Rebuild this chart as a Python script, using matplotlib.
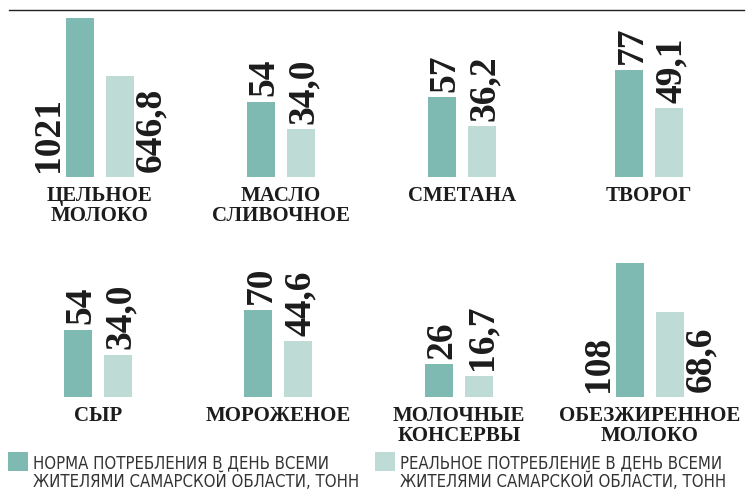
import matplotlib.pyplot as plt
from matplotlib.patches import Rectangle
from matplotlib.lines import Line2D

# данные
categories = ['ЦЕЛЬНОЕ\nМОЛОКО', 'МАСЛО\nСЛИВОЧНОЕ', 'СМЕТАНА', 'ТВОРОГ',
              'СЫР', 'МОРОЖЕНОЕ', 'МОЛОЧНЫЕ\nКОНСЕРВЫ', 'ОБЕЗЖИРЕННОЕ\nМОЛОКО']
norma = [1021, 54, 57, 77, 54, 70, 26, 108]
realnoe = [646.8, 34.0, 36.2, 49.1, 34.0, 44.6, 16.7, 68.6]
legend_labels = ['НОРМА ПОТРЕБЛЕНИЯ В ДЕНЬ ВСЕМИ\nЖИТЕЛЯМИ САМАРСКОЙ ОБЛАСТИ, ТОНН',
                 'РЕАЛЬНОЕ ПОТРЕБЛЕНИЕ В ДЕНЬ ВСЕМИ\nЖИТЕЛЯМИ САМАРСКОЙ ОБЛАСТИ, ТОНН']

# оформление
W, H = 749, 490
c_dark = '#7ebab2'
c_light = '#bfdbd6'
txt_c = '#1c1c1c'
serif = 'Liberation Serif'
centers = [100, 281, 462, 649, 98, 278, 459, 650]      # центр пары столбцов, px
baselines = [176.7] * 4 + [396.7] * 4                   # низ столбцов, px
px_per_unit = [0.1555, 1.39, 1.39, 1.39, 1.24, 1.24, 1.24, 1.24]
side_labels = {0, 7}   # подписи сбоку от высоких столбцов
ax_h = 165


def fx(px):
    return px / W


def fy(px):
    return 1 - px / H


fig = plt.figure(figsize=(W / 100, H / 100), dpi=100)

for i, cat in enumerate(categories):
    ax = fig.add_axes([fx(centers[i] - 80), fy(baselines[i]), 160 / W, ax_h / H])
    ax.set_xlim(-2, 2)
    ax.set_ylim(0, ax_h / px_per_unit[i])
    ax.axis('off')
    ax.bar(-0.5, norma[i], width=0.7, color=c_dark)
    ax.bar(0.5, realnoe[i], width=0.7, color=c_light)

    s1 = str(norma[i])
    s2 = f'{realnoe[i]:.1f}'.replace('.', ',')
    kw = dict(rotation=90, rotation_mode='anchor', ha='left', va='baseline',
              textcoords='offset points', fontsize=27, fontweight='bold',
              family=serif, color=txt_c, annotation_clip=False)
    if i in side_labels:
        ax.annotate(s1, (-1.06, 0), xytext=(0, 3.5), **kw)
        ax.annotate(s2, (1.5, 0), xytext=(0, 3.5), **kw)
    else:
        ax.annotate(s1, (-0.5 + 0.31, norma[i]), xytext=(0, 4), **kw)
        ax.annotate(s2, (0.5 + 0.31, realnoe[i]), xytext=(0, 4), **kw)

    fig.text(fx(centers[i]), fy(baselines[i] + 9), cat, ha='center', va='top',
             multialignment='center', fontsize=15, fontweight='bold',
             family=serif, color=txt_c, linespacing=1.0)

# линия сверху
fig.add_artist(Line2D([fx(9), fx(744)], [fy(10.3), fy(10.3)], lw=1.0, color='#222222'))

# легенда
for x0, col, lab in [(8.3, c_dark, legend_labels[0]), (375, c_light, legend_labels[1])]:
    fig.add_artist(Rectangle((fx(x0), fy(470.7)), 20 / W, 18.4 / H,
                             transform=fig.transFigure, color=col, lw=0))
    fig.text(fx(x0 + 25), fy(454), lab, ha='left', va='top', fontsize=12,
             family='DejaVu Sans', fontstretch='condensed', color='#333333',
             linespacing=1.06)

fig.savefig('out.png', dpi=100)
